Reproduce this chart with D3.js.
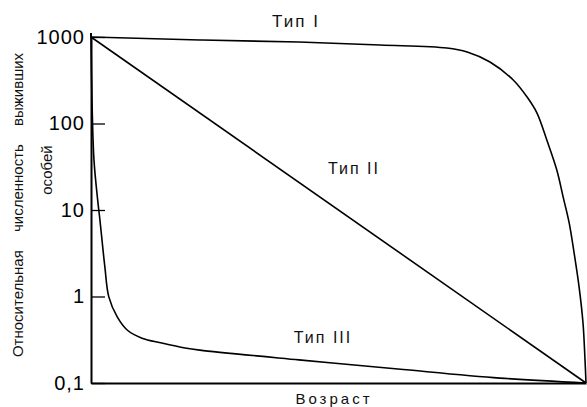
<!DOCTYPE html>
<html>
<head>
<meta charset="utf-8">
<script src="https://cdn.jsdelivr.net/npm/d3@7"></script>
<style>
  body { margin: 0; background: #fff; }
  svg { font-family: "Liberation Sans", Arial, sans-serif; }
</style>
</head>
<body>
<svg id="chart" width="587" height="407"></svg>
<script>
// survivorship curves: age 0..100 (% of lifespan), survivors on a log scale
let yTicks = [0.1, 1, 10, 100, 1000];

let type1Age = [0, 22, 42, 58.4, 71.9, 76, 80.6, 85.3, 88.1, 90.1, 92.1, 94.1, 95.4, 96.6, 97.6, 98.6, 99.4, 99.8, 100];
let type1Val = [1000, 923, 875, 809, 747, 671, 514, 318, 202, 132, 64, 29, 14, 7.1, 3.18, 1.29, 0.49, 0.185, 0.1];

let type2Age = [0, 100];
let type2Val = [1000, 0.1];

let type3Age = [0, 0.2, 0.6, 1.35, 1.8, 2.8, 3.6, 5.3, 7.3, 10.3, 14.3, 19, 22, 42, 62, 82.6, 100];
let type3Val = [1000, 187, 38, 13, 7.7, 2.2, 0.99, 0.58, 0.41, 0.33, 0.29, 0.254, 0.24, 0.185, 0.145, 0.114, 0.1];

let svg = d3.select("#chart");

let x = d3.scaleLinear().domain([0, 100]).range([91, 586]);
let y = d3.scaleLog().domain([0.1, 1000]).range([383, 37]);

// y axis: ticks point inward, labels on the left
let yAxis = svg.append("g")
  .attr("transform", "translate(91,0)")
  .call(d3.axisLeft(y)
    .tickValues(yTicks)
    .tickSizeInner(-14)
    .tickSizeOuter(0)
    .tickPadding(6)
    .tickFormat(d => d < 1 ? "0,1" : String(d)));
yAxis.select(".domain").attr("stroke", "#000").attr("stroke-width", 2);
yAxis.selectAll(".tick line").attr("stroke", "#000").attr("stroke-width", 1.3);
yAxis.selectAll(".tick text")
  .attr("fill", "#000")
  .style("font-size", "20px")
  .style("letter-spacing", "1px");

// small stub of the axis above the top tick
svg.append("line")
  .attr("x1", 91).attr("x2", 91)
  .attr("y1", y(1000) - 4).attr("y2", y(1000))
  .attr("stroke", "#000").attr("stroke-width", 2);

// x axis: plain line, no ticks
let xAxis = svg.append("g")
  .attr("transform", "translate(0,383)")
  .call(d3.axisBottom(x).tickValues([]).tickSizeOuter(0));
xAxis.select(".domain").attr("stroke", "#000").attr("stroke-width", 2);

let line = d3.line()
  .x(d => x(d[0]))
  .y(d => y(d[1]))
  .curve(d3.curveCatmullRom.alpha(0.5));

let series = [
  d3.zip(type1Age, type1Val),
  d3.zip(type2Age, type2Val),
  d3.zip(type3Age, type3Val)
];

svg.selectAll("path.curve")
  .data(series)
  .enter()
  .append("path")
  .attr("class", "curve")
  .attr("d", line)
  .attr("fill", "none")
  .attr("stroke", "#000")
  .attr("stroke-width", 1.6);

// curve labels
function label(txt, cx, by, size) {
  svg.append("text")
    .attr("x", cx)
    .attr("y", by)
    .attr("text-anchor", "middle")
    .style("font-size", size + "px")
    .style("letter-spacing", "2px")
    .attr("fill", "#111")
    .text(txt);
}
label("Тип I", 296, 27, 17);
label("Тип II", 354, 174, 16);
label("Тип III", 323, 343, 16);

svg.append("text")
  .attr("x", 334)
  .attr("y", 404)
  .attr("text-anchor", "middle")
  .style("font-size", "15px")
  .style("letter-spacing", "3px")
  .attr("fill", "#111")
  .text("Возраст");

// y axis title, two lines
svg.append("text")
  .attr("transform", "translate(23,205) rotate(-90)")
  .attr("text-anchor", "middle")
  .style("font-size", "15px")
  .style("word-spacing", "14px")
  .attr("fill", "#111")
  .text("Относительная численность выживших");

svg.append("text")
  .attr("transform", "translate(52,170) rotate(-90)")
  .attr("text-anchor", "middle")
  .style("font-size", "15px")
  .attr("fill", "#111")
  .text("особей");
</script>
</body>
</html>
